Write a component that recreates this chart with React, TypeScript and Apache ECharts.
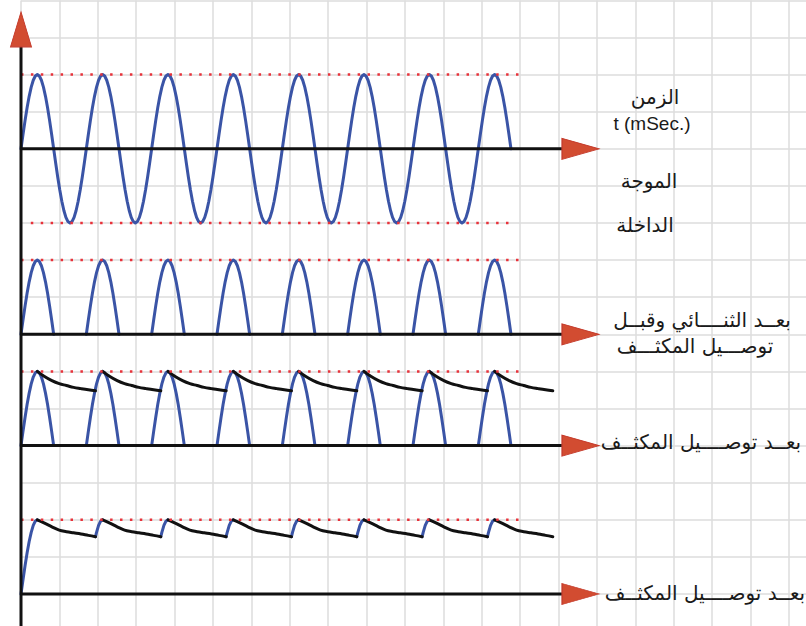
import React, { useEffect, useRef } from "react";
import * as echarts from "echarts";

// ---- data ----
const PERIOD_MS = 20; // one cycle of the input wave
const AMP = 2; // peak amplitude, in grid cells
const BASELINES = [12, 7, 4, 0]; // time axes: input, after diode, diode+capacitor overlay, after capacitor
const HALF_CYCLES = 15; // the input wave is drawn for 7.5 cycles
const HUMPS = 8; // positive half cycles
// one half cycle of the drawn wave, normalised, 17 samples
const HUMP = [0, 0.195, 0.383, 0.556, 0.707, 0.831, 0.924, 0.981, 1, 0.981, 0.924, 0.831, 0.707, 0.556, 0.383, 0.195, 0];
// capacitor discharge after each peak: time after the peak (ms) and fraction of the peak left
const DECAY_MS = [0, 2.2, 4.45, 6.7, 8.9, 11.1, 13.35, 15.6, 17.8];
const DECAY_PANEL3 = [1, 0.93, 0.875, 0.835, 0.81, 0.785, 0.768, 0.752, 0.738];
const DECAY_PANEL4 = [1, 0.955, 0.905, 0.86, 0.84, 0.825, 0.81, 0.79, 0.772];
const PEAK_DOTS_MS = [0, 152.8];
const TROUGH_DOTS_MS = [3, 150];
const AXIS_END_MS = 165.6;
const ARROW_MS = 171.3;
const Y_ARROW_BASE = 14.75;
const Y_ARROW_CENTER = 15.22;

// ---- layout ----
const W = 806;
const H = 626;
const CW = 840; // chart canvas a little larger than the page, clipped by the wrapper
const CH = 650;
const ORIGIN_X = 21;
const CELL_X = 38.4;
const CELL_Y = 37.1;
const PERIOD_PX = 65.33;
const GRID_TOP = 0.4;
const X_CELLS = 21;
const Y_MIN = -1;
const Y_MAX = 16;

const BLUE = "#3a54a6";
const BLACK = "#111111";
const RED_DOT = "#e8323a";
const ARROW_FILL = "#d24c31";
const ARROW_EDGE = "#c4392a";
const GRIDLINE = "#dddddd";

const halfStep = PERIOD_MS / 2 / (HUMP.length - 1);
const GAP: any = "-";

function sineData(base: number) {
  const d: any[] = [];
  for (let h = 0; h < HALF_CYCLES; h++) {
    const sign = h % 2 === 0 ? 1 : -1;
    for (let k = h === 0 ? 0 : 1; k < HUMP.length; k++) {
      d.push([(h * PERIOD_MS) / 2 + k * halfStep, base + sign * AMP * HUMP[k]]);
    }
  }
  return d;
}

function humpData(base: number) {
  const d: any[] = [];
  for (let n = 0; n < HUMPS; n++) {
    for (let k = 0; k < HUMP.length; k++) d.push([n * PERIOD_MS + k * halfStep, base + AMP * HUMP[k]]);
    d.push([n * PERIOD_MS + PERIOD_MS * 0.75, GAP]);
  }
  return d;
}

function decayData(base: number, decay: number[]) {
  const d: any[] = [];
  for (let n = 0; n < HUMPS; n++) {
    const peak = n * PERIOD_MS + PERIOD_MS / 4;
    for (let i = 0; i < DECAY_MS.length; i++) d.push([peak + DECAY_MS[i], base + AMP * decay[i]]);
    d.push([peak + DECAY_MS[DECAY_MS.length - 1] + 0.1, GAP]);
  }
  return d;
}

function riseData(base: number, decay: number[]) {
  const d: any[] = [];
  const quarter = (HUMP.length - 1) / 2;
  for (let k = 0; k <= quarter; k++) d.push([k * halfStep, base + AMP * HUMP[k]]);
  d.push([PERIOD_MS / 4 + 0.1, GAP]);
  for (let n = 1; n < HUMPS; n++) {
    const tStart = (n - 1) * PERIOD_MS + PERIOD_MS / 4 + DECAY_MS[DECAY_MS.length - 1];
    d.push([tStart, base + AMP * decay[decay.length - 1]]);
    for (let k = 0; k <= quarter; k++) {
      const t = n * PERIOD_MS + k * halfStep;
      if (t > tStart) d.push([t, base + AMP * HUMP[k]]);
    }
    d.push([n * PERIOD_MS + PERIOD_MS / 4 + 0.1, GAP]);
  }
  return d;
}

function lineSeries(data: any[], color: string, width: number, extra: any = {}) {
  return {
    type: "line",
    xAxisIndex: 1,
    yAxisIndex: 0,
    data,
    symbol: "none",
    silent: true,
    connectNulls: false,
    smooth: extra.smooth ?? false,
    lineStyle: { color, width, cap: "round", join: "round", ...(extra.lineStyle || {}) },
    z: extra.z ?? 3,
  };
}

const LABELS = [
  { text: "الزمن", x: 655, y: 97, latin: false },
  { text: "t (mSec.)", x: 652, y: 123, latin: true },
  { text: "الموجة", x: 649, y: 181, latin: false },
  { text: "الداخلة", x: 645, y: 225, latin: false },
  { text: "بعــد الثنــــائي وقبــل", x: 702, y: 320, latin: false },
  { text: "توصـــيل المكثـــف", x: 695, y: 346, latin: false },
  { text: "بعــد توصــــيل المكثــف", x: 701, y: 442, latin: false },
  { text: "بعــد توصــــيل المكثــف", x: 705, y: 593, latin: false },
];

export default function App() {
  const ref = useRef<HTMLDivElement>(null);

  useEffect(() => {
    document.body.style.margin = "0";
    if (!ref.current) return;
    const chart = echarts.init(ref.current, null, { renderer: "svg", width: CW, height: CH });

    const msMax = ((X_CELLS * CELL_X) / PERIOD_PX) * PERIOD_MS;

    const dotStyle = { lineStyle: { type: [2.5, 7.4], cap: "butt" }, z: 5 };
    const peakLevels = BASELINES.map((b) => b + AMP);

    const series: any[] = [
      lineSeries(sineData(BASELINES[0]), BLUE, 3),
      lineSeries(humpData(BASELINES[1]), BLUE, 3),
      lineSeries(humpData(BASELINES[2]), BLUE, 3),
      lineSeries(decayData(BASELINES[2], DECAY_PANEL3), BLACK, 3, { z: 4, smooth: 0.4 }),
      lineSeries(riseData(BASELINES[3], DECAY_PANEL4), BLUE, 3),
      lineSeries(decayData(BASELINES[3], DECAY_PANEL4), BLACK, 3, { z: 4, smooth: 0.4 }),
    ];
    peakLevels.forEach((lv) => {
      series.push(
        lineSeries(
          [
            [PEAK_DOTS_MS[0], lv],
            [PEAK_DOTS_MS[1], lv],
          ],
          RED_DOT,
          2.5,
          dotStyle
        )
      );
    });
    series.push(
      lineSeries(
        [
          [TROUGH_DOTS_MS[0], BASELINES[0] - AMP],
          [TROUGH_DOTS_MS[1], BASELINES[0] - AMP],
        ],
        RED_DOT,
        2.5,
        dotStyle
      )
    );
    // time axes
    const axisData: any[] = [];
    BASELINES.forEach((b) => {
      axisData.push([0, b], [AXIS_END_MS, b], [AXIS_END_MS + 0.1, GAP]);
    });
    series.push(lineSeries(axisData, BLACK, 3, { z: 6, lineStyle: { cap: "butt" } }));
    series.push(
      lineSeries(
        [
          [0, Y_MIN],
          [0, Y_ARROW_BASE],
        ],
        BLACK,
        3,
        { z: 6, lineStyle: { cap: "butt" } }
      )
    );
    series.push({
      type: "scatter",
      xAxisIndex: 1,
      yAxisIndex: 0,
      silent: true,
      symbol: "triangle",
      symbolSize: [21, 37],
      symbolRotate: -90,
      itemStyle: { color: ARROW_FILL, borderColor: ARROW_EDGE, borderWidth: 1, opacity: 1 },
      data: BASELINES.map((b) => [ARROW_MS, b]),
      z: 7,
    });
    series.push({
      type: "scatter",
      xAxisIndex: 1,
      yAxisIndex: 0,
      silent: true,
      symbol: "triangle",
      symbolSize: [21, 35],
      itemStyle: { color: ARROW_FILL, borderColor: ARROW_EDGE, borderWidth: 1, opacity: 1 },
      data: [[0, Y_ARROW_CENTER]],
      z: 7,
    });

    const graphics = LABELS.map((l) => ({
      type: "text",
      x: l.x,
      y: l.y,
      silent: true,
      z: 10,
      style: {
        text: l.text,
        fill: "#1a1a1a",
        font: l.latin ? '19px "Liberation Sans", Arial, sans-serif' : '20px "DejaVu Sans", sans-serif',
        textAlign: "center",
        textVerticalAlign: "middle",
      },
    }));

    chart.setOption({
      animation: false,
      backgroundColor: "#ffffff",
      grid: { left: ORIGIN_X, top: GRID_TOP, width: X_CELLS * CELL_X, height: (Y_MAX - Y_MIN) * CELL_Y, containLabel: false },
      xAxis: [
        {
          type: "value",
          min: 0,
          max: X_CELLS,
          interval: 1,
          axisLine: { show: false },
          axisTick: { show: false },
          axisLabel: { show: false },
          splitLine: { show: true, lineStyle: { color: GRIDLINE, width: 1.5 } },
        },
        {
          type: "value",
          min: 0,
          max: msMax,
          axisLine: { show: false },
          axisTick: { show: false },
          axisLabel: { show: false },
          splitLine: { show: false },
        },
      ],
      yAxis: [
        {
          type: "value",
          min: Y_MIN,
          max: Y_MAX,
          interval: 1,
          axisLine: { show: false },
          axisTick: { show: false },
          axisLabel: { show: false },
          splitLine: { show: true, lineStyle: { color: GRIDLINE, width: 1.5 } },
        },
      ],
      series,
      graphic: graphics,
    });

    return () => chart.dispose();
  }, []);

  return (
    <div style={{ position: "absolute", left: 0, top: 0, width: W, height: H, overflow: "hidden", background: "#fff" }}>
      <div ref={ref} style={{ width: CW, height: CH }} />
    </div>
  );
}
